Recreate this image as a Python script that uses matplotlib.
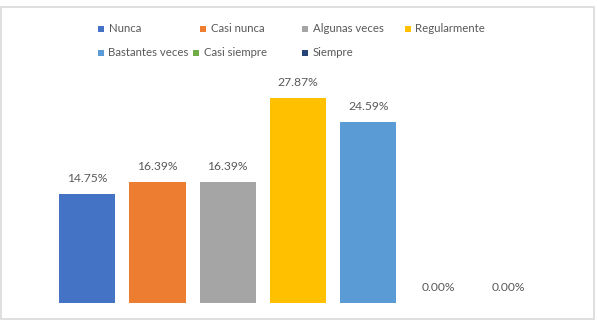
import matplotlib.pyplot as plt
from matplotlib.patches import Rectangle

# Data
categories = ['Nunca', 'Casi nunca', 'Algunas veces', 'Regularmente',
              'Bastantes veces', 'Casi siempre', 'Siempre']
values = [14.75, 16.39, 16.39, 27.87, 24.59, 0.00, 0.00]
colors = ['#4472C4', '#ED7D31', '#A5A5A5', '#FFC000',
          '#5B9BD5', '#70AD47', '#264478']

W, H = 597, 326
TEXT = '#595959'
plt.rcParams['font.family'] = ['Lato', 'DejaVu Sans']

fig = plt.figure(figsize=(W / 100, H / 100), dpi=100)

# outer chart border
fig.patches.append(Rectangle((1 / W, 1 - 318.5 / H), 593 / W, 311.5 / H,
                             transform=fig.transFigure, fill=False,
                             edgecolor='#D9D9D9', linewidth=1.2))

# plot area
ax = fig.add_axes([52 / W, 1 - 302.5 / H, 492 / W, 220.5 / H])
x = range(len(categories))
ax.bar(x, values, width=0.8, color=colors)
ax.set_xlim(-0.5, len(categories) - 0.5)
ax.set_ylim(0, 30)
ax.axis('off')

for xi, v in zip(x, values):
    ax.annotate(f'{v:.2f}%', (xi, v), xytext=(0, 7), textcoords='offset points',
                ha='center', va='bottom', fontsize=8.7, color=TEXT)

# legend, laid out like the Excel flow legend (marker centres in px)
legend_pos = [(100.5, 29), (203, 29), (305, 29), (407.5, 29),
              (100.5, 53), (196, 53), (305, 53)]
for (px, py), lab, c in zip(legend_pos, categories, colors):
    fig.patches.append(Rectangle(((px - 3) / W, 1 - (py + 3) / H), 6 / W, 6 / H,
                                 transform=fig.transFigure, facecolor=c,
                                 edgecolor='none'))
    fig.text((px + 8) / W, 1 - py / H, lab, ha='left', va='center',
             fontsize=8.2, color=TEXT)

fig.savefig('out.png', dpi=100)
